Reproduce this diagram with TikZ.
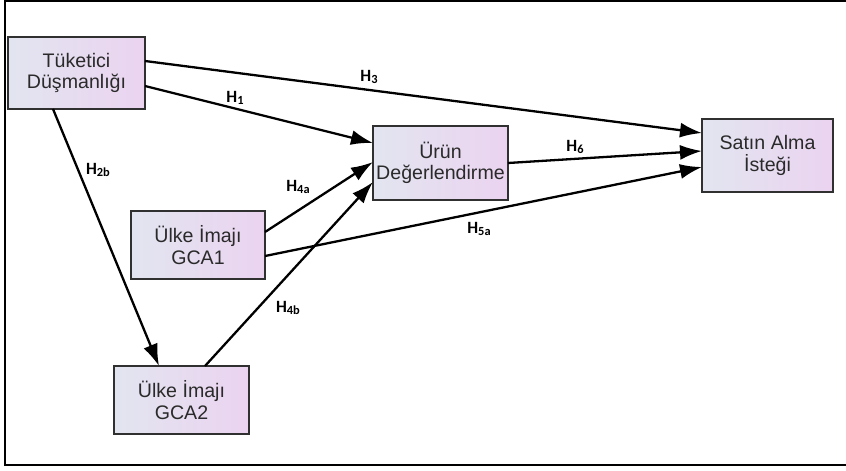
\documentclass[tikz,border=0pt]{standalone}
\usepackage{fontspec}
\setmainfont{Liberation Sans}
\newfontfamily\labfont{Carlito}
\usetikzlibrary{arrows.meta,calc}
\definecolor{boxleft}{HTML}{E2E5F0}
\definecolor{boxright}{HTML}{EBD3F0}
\definecolor{boxline}{HTML}{303030}
\definecolor{boxtext}{HTML}{2A2A2A}
\newcommand\hyp[1]{\labfont\bfseries H\raisebox{-0.25ex}{\fontsize{6.2pt}{7pt}\selectfont #1}}
\tikzset{
  varbox/.style={draw=boxline, line width=1.1pt, left color=boxleft, right color=boxright,
    inner sep=0pt, outer sep=0pt, align=center, text=boxtext,
    font=\fontsize{9.8pt}{10.8pt}\selectfont},
  conn/.style={line width=1.15pt, -{Latex[length=11pt,width=7.5pt]}},
  hlabel/.style={inner sep=0pt, font=\fontsize{8.6pt}{9pt}\selectfont}
}
\begin{document}
\begin{tikzpicture}[x=0.5pt,y=-0.5pt]
\useasboundingbox (0,0) rectangle (846,471);
\draw[line width=1.1pt] (846,1) -- (5,1) -- (5,465) -- (846,465);
% boxes
\node[varbox, minimum width=68.5pt, minimum height=36pt] (tk) at (76.5,73) {Tüketici\\Düşmanlığı};
\node[varbox, minimum width=67.5pt, minimum height=37pt] (ur) at (440.5,163) {Ürün\\Değerlendirme};
\node[varbox, minimum width=65.5pt, minimum height=36.5pt] (sa) at (767.5,155.5) {Satın Alma\\İsteği};
\node[varbox, minimum width=67pt, minimum height=34pt] (g1) at (198,245) {Ülke İmajı\\GCA1};
\node[varbox, minimum width=67.5pt, minimum height=34pt] (g2) at (181.5,400) {Ülke İmajı\\GCA2};
% connectors
\draw[conn] ([yshift=6pt]tk.east) -- ([yshift=11.25pt]sa.west);
\draw[conn] ([yshift=-6.5pt]tk.east) -- ([yshift=10pt]ur.west);
\draw[conn] (ur.east) -- ([yshift=2.25pt]sa.west);
\draw[conn] ([yshift=-5.5pt]g1.east) -- ([yshift=-5.75pt]sa.west);
\draw[conn] ([yshift=6.5pt]g1.east) -- ([yshift=0.5pt]ur.west);
\draw[conn] ([xshift=11.75pt]g2.north) -- ([yshift=-9.5pt]ur.west);
\draw[conn] ([xshift=-11.75pt]tk.south) -- ([xshift=-11.25pt]g2.north);
% labels
\node[hlabel] (l3) at (369,77) {\hyp{3}};
\node[hlabel] (l1) at (235,98) {\hyp{1}};
\node[hlabel] (l6) at (575,147) {\hyp{6}};
\node[hlabel] (l2b) at (98,170) {\hyp{2b}};
\node[hlabel] (l4a) at (298,187) {\hyp{4a}};
\node[hlabel] (l5a) at (479,229) {\hyp{5a}};
\node[hlabel] (l4b) at (288,308) {\hyp{4b}};
\end{tikzpicture}
\end{document}
